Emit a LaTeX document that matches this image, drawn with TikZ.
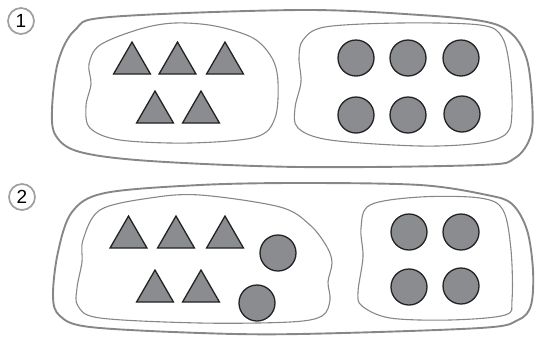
\documentclass[tikz,border=0pt]{standalone}
\usepackage{fontspec}
\setmainfont{Liberation Sans}
\usetikzlibrary{shapes.geometric}
\definecolor{ShapeGrey} {RGB}{139, 140, 144}
\definecolor{ShapeEdge} {RGB}{ 35,  35,  35}
\definecolor{BlobGrey}  {RGB}{135, 135, 138}
\tikzset{
  % triangle token
  tritoken/.style={
    regular polygon, regular polygon sides=3,
    fill=ShapeGrey, draw=ShapeEdge, line width=1.3pt,
    minimum size=42.7pt, inner sep=0pt
  },
  % circle token
  dottoken/.style={
    circle, fill=ShapeGrey, draw=ShapeEdge, line width=1.3pt,
    minimum size=36pt, inner sep=0pt
  },
  % numbered label
  numlabel/.style={
    circle, draw=BlobGrey!80, line width=1.7pt, text=black,
    font=\fontsize{19}{19}\selectfont,
    minimum size=26pt, inner sep=0pt
  },
  % outer set outline
  outerblob/.style={
    draw=BlobGrey, line width=1.9pt, tension=0.55
  },
  % inner set outline
  innerblob/.style={
    draw=BlobGrey, line width=1.1pt, tension=0.55
  }
}
\begin{document}
\begin{tikzpicture}[x=1pt, y=-1pt]
  \useasboundingbox (0,0) rectangle (536,338);

  % ── Part 1 ───────────────────────────────────────────────────────────────
  \node[numlabel] (lab_one) at (21,21) {1};

  % outer set
  \draw[outerblob] plot[smooth cycle] coordinates {
    (75,30) (110,17) (300,10) (420,15) (487,22) (513,35) (527,60)
    (532,100) (531,135) (515,158) (480,165) (300,167) (150,161)
    (80,152) (56,136) (52,110) (58,62)};

  % inner set: triangles
  \draw[innerblob] plot[smooth cycle] coordinates {
    (100,45) (140,29) (175,23) (215,26) (253,38) (272,58) (278,82)
    (275,118) (256,137) (190,143) (120,140) (90,128) (86,106)
    (91,84) (89,64)};

  % inner set: circles
  \draw[innerblob] plot[smooth cycle] coordinates {
    (303,40) (325,27) (400,23) (480,25) (502,37) (510,70) (512,110)
    (507,133) (480,143) (420,146) (330,140) (298,128) (295,108)
    (301,82) (299,58)};

  % triangles
  \node[tritoken] (tri_a) at (132,63.4) {};
  \node[tritoken] (tri_b) at (177.5,63.4) {};
  \node[tritoken] (tri_c) at (225,63.4) {};
  \node[tritoken] (tri_d) at (155,112.4) {};
  \node[tritoken] (tri_e) at (201,112.4) {};

  % circles
  \node[dottoken] (dot_a) at (356,58) {};
  \node[dottoken] (dot_b) at (408,58) {};
  \node[dottoken] (dot_c) at (461,58) {};
  \node[dottoken] (dot_d) at (356,115) {};
  \node[dottoken] (dot_e) at (408,115) {};
  \node[dottoken] (dot_f) at (462,114) {};

  % ── Part 2 ───────────────────────────────────────────────────────────────
  \node[numlabel] (lab_two) at (22,197) {2};

  % outer set
  \draw[outerblob] plot[smooth cycle] coordinates {
    (72,212) (105,193) (200,185) (300,183) (420,185) (487,195)
    (512,204) (527,230) (533,270) (531,305) (518,320) (480,328)
    (300,334) (200,333) (90,327) (60,316) (53,296) (58,252)};

  % inner set: triangles and two circles
  \draw[innerblob] plot[smooth cycle] coordinates {
    (100,210) (150,198) (200,195) (280,207) (310,225) (327,247)
    (332,263) (328,282) (330,300) (322,316) (290,322) (200,323)
    (100,318) (78,306) (77,288) (82,262) (83,240)};

  % inner set: four circles
  \draw[innerblob] plot[smooth cycle] coordinates {
    (370,205) (420,197) (480,198) (503,210) (511,250) (512,300)
    (505,315) (450,320) (390,318) (362,306) (358,292) (363,257)
    (361,228)};

  % triangles
  \node[tritoken] (tri_f) at (128.5,237.4) {};
  \node[tritoken] (tri_g) at (176,237.4) {};
  \node[tritoken] (tri_h) at (225,237.4) {};
  \node[tritoken] (tri_i) at (155,291.4) {};
  \node[tritoken] (tri_j) at (201,291.4) {};

  % circles moved beside the triangles
  \node[dottoken] (dot_g) at (278,253) {};
  \node[dottoken] (dot_h) at (257,303) {};

  % circles left on the right
  \node[dottoken] (dot_i) at (409,232) {};
  \node[dottoken] (dot_j) at (461,232) {};
  \node[dottoken] (dot_k) at (409,287) {};
  \node[dottoken] (dot_l) at (461,286) {};

\end{tikzpicture}
\end{document}
